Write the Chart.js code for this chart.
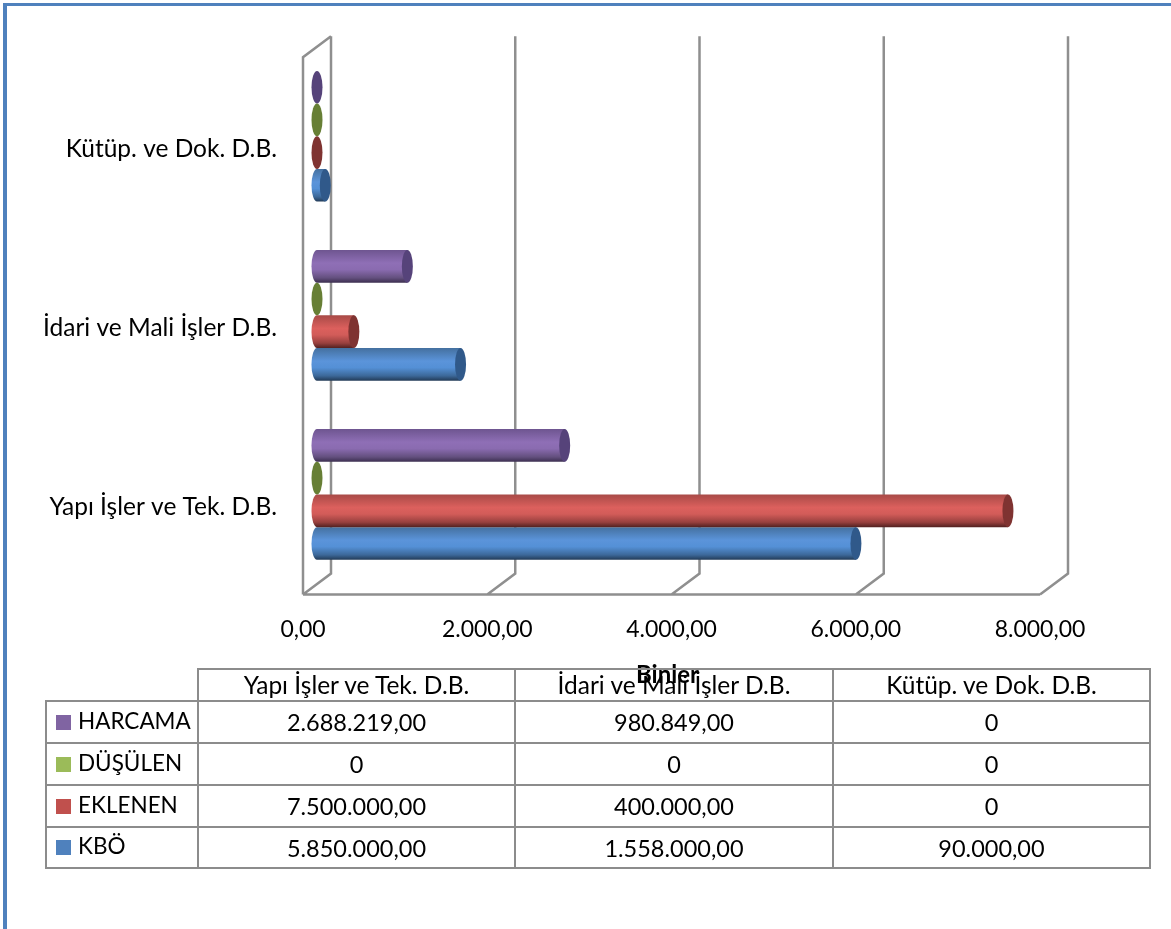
<!DOCTYPE html>
<html lang="tr">
<head>
<meta charset="utf-8">
<title>Harcama grafiği</title>
<script src="https://cdn.jsdelivr.net/npm/chart.js@4/dist/chart.umd.min.js"></script>
<style>
    html, body { margin: 0; padding: 0; background: #fff; overflow: hidden; }
    #wrap { position: relative; width: 1171px; height: 929px; }
    #frame { position: absolute; left: 3px; top: 3px; right: 0; bottom: 0;
        border-left: 4px solid #4f81bd; border-top: 3px solid #4f81bd; }
    #grafica { position: absolute; left: 0; top: 0; }
    #tabla { position: absolute; left: 45px; top: 668px; border-collapse: collapse; table-layout: fixed;
        width: 1104px; font-family: Lato, sans-serif; font-size: 23.5px; color: #000; }
    #tabla td { border: 2px solid #8c8c8c; text-align: center; padding: 0; height: 40px;
        white-space: nowrap; overflow: hidden; }
    #tabla tr:first-child td { height: 30px; line-height: 24px; font-size: 24.5px; }
    #tabla tr:nth-child(5) td, #tabla tr:nth-child(6) td { height: 39px; }
    #tabla td.vacio { border-top: 0; border-left: 0; }
    #tabla td.serie { text-align: left; padding-left: 9px; font-size: 22.5px; }
    #tabla td.serie div { position: relative; top: -2px; }
    #tabla .cuadro { display: inline-block; width: 15px; height: 15px; margin-right: 7px; vertical-align: -1px; }
</style>
</head>
<body>
<div id="wrap">
    <div id="frame"></div>
    <canvas id="grafica" width="1171" height="929"></canvas>
    <table id="tabla"></table>
</div>
<script>
// Categories and series, values as printed in the table under the chart
var birimler = ['Yapı İşler ve Tek. D.B.', 'İdari ve Mali İşler D.B.', 'Kütüp. ve Dok. D.B.'];
var harcama = [2688219, 980849, 0];
var dusulen = [0, 0, 0];
var eklenen = [7500000, 400000, 0];
var kbo = [5850000, 1558000, 90000];
var tickStep = 2000000;
var tickMax = 8000000;
var axisTitle = 'Binler';

var seriesNames = ['HARCAMA', 'DÜŞÜLEN', 'EKLENEN', 'KBÖ'];
var seriesValues = [harcama, dusulen, eklenen, kbo];
var keyColors = ['#8064a2', '#9bbb59', '#c0504d', '#4f81bd'];
var capColors = ['#56437a', '#677f35', '#7f3331', '#30598a'];
var shades = [
    ['#6e5590', '#8f6fb6', '#8a6bb0', '#64507f', '#3c2f50'],
    ['#84a04a', '#a8cc62', '#a0c45c', '#7a9440', '#4a5c26'],
    ['#a84a47', '#dc605d', '#d25c59', '#98403e', '#522120'],
    ['#44709f', '#5b94da', '#5490d6', '#3c6899', '#223a56']
];

var depthX = 14;
var depthY = 10.5;
var gridColor = '#8f8f8f';
var capRadius = 5.5;

// 2.688.219,00 style numbers
function formatNumber(value) {
    return value.toLocaleString('de-DE', { minimumFractionDigits: 2, maximumFractionDigits: 2 });
}

// Perspective walls and floor, taken from the x scale
var wallsPlugin = {
    id: 'walls',
    beforeDatasetsDraw: function (chart) {
        var ctx = chart.ctx;
        var x = chart.scales.x;
        var area = chart.chartArea;
        var left = x.getPixelForValue(0);
        var right = x.getPixelForValue(tickMax);

        ctx.save();
        ctx.strokeStyle = gridColor;
        ctx.lineWidth = 2.5;
        ctx.beginPath();
        x.ticks.forEach(function (tick) {
            var px = x.getPixelForValue(tick.value);
            ctx.moveTo(px + depthX, area.top - depthY);
            ctx.lineTo(px + depthX, area.bottom - depthY);
            ctx.lineTo(px - depthX, area.bottom + depthY);
        });
        ctx.moveTo(left - depthX, area.bottom + depthY);
        ctx.lineTo(right - depthX, area.bottom + depthY);
        ctx.moveTo(left - depthX, area.bottom + depthY);
        ctx.lineTo(left - depthX, area.top + depthY);
        ctx.lineTo(left + depthX, area.top - depthY);
        ctx.stroke();
        ctx.restore();

        // Cylinder shading for each bar body
        chart.data.datasets.forEach(function (ds, i) {
            chart.getDatasetMeta(i).data.forEach(function (bar) {
                bar.options = Object.assign({}, bar.options, {
                    backgroundColor: cylinderGradient(ctx, bar, i)
                });
            });
        });
    },
    afterDatasetsDraw: function (chart) {
        var ctx = chart.ctx;
        var x = chart.scales.x;
        var area = chart.chartArea;

        chart.data.datasets.forEach(function (ds, i) {
            chart.getDatasetMeta(i).data.forEach(function (bar) {
                var h = bar.height / 2;
                ctx.save();
                if (bar.x > bar.base) {
                    // rounded start of the cylinder
                    ctx.fillStyle = cylinderGradient(ctx, bar, i);
                    ctx.beginPath();
                    ctx.ellipse(bar.base, bar.y, capRadius, h, 0, Math.PI / 2, Math.PI * 1.5);
                    ctx.fill();
                }
                ctx.fillStyle = capColors[i];
                ctx.beginPath();
                ctx.ellipse(bar.x, bar.y, capRadius, h, 0, 0, Math.PI * 2);
                ctx.fill();
                ctx.restore();
            });
        });

        ctx.save();
        ctx.fillStyle = '#000';
        ctx.font = 'bold 24px Lato, sans-serif';
        ctx.textAlign = 'center';
        ctx.textBaseline = 'middle';
        ctx.fillText(axisTitle, x.getPixelForValue(tickMax / 2) - 18, area.bottom + 91);
        ctx.restore();
    }
};

function cylinderGradient(ctx, bar, i) {
    var top = bar.y - bar.height / 2;
    var grad = ctx.createLinearGradient(0, top, 0, top + bar.height);
    var stops = [0, 0.4, 0.6, 0.85, 1];
    stops.forEach(function (stop, n) {
        grad.addColorStop(stop, shades[i][n]);
    });
    return grad;
}

var datasets = seriesNames.map(function (name, i) {
    return {
        label: name,
        data: seriesValues[i],
        backgroundColor: keyColors[i],
        borderWidth: 0,
        barPercentage: 1,
        categoryPercentage: 0.73
    };
});

new Chart(document.getElementById('grafica').getContext('2d'), {
    type: 'bar',
    data: { labels: birimler, datasets: datasets },
    plugins: [wallsPlugin],
    options: {
        indexAxis: 'y',
        responsive: false,
        animation: false,
        layout: { padding: { top: 41, right: 117, bottom: 245, left: 0 } },
        plugins: { legend: { display: false }, tooltip: { enabled: false } },
        scales: {
            x: {
                min: 0,
                max: tickMax,
                grid: { display: false },
                border: { display: false },
                afterFit: function (scale) { scale.height = 100; },
                ticks: {
                    stepSize: tickStep,
                    maxRotation: 0,
                    labelOffset: -14,
                    padding: 24,
                    color: '#000',
                    font: { family: 'Lato, sans-serif', size: 23 },
                    callback: function (value) { return formatNumber(value / 1000); }
                }
            },
            y: {
                reverse: true,
                grid: { display: false },
                border: { display: false },
                afterFit: function (scale) { scale.width = 317; },
                ticks: {
                    padding: 32,
                    labelOffset: 13,
                    color: '#000',
                    font: { family: 'Lato, sans-serif', size: 24.5 }
                }
            }
        }
    }
});

// Data table under the chart, it also works as the legend
function crearTabla() {
    var html = '<colgroup><col style="width:152px"><col style="width:317px"><col style="width:318px"><col style="width:317px"></colgroup>';
    html += '<tr><td class="vacio"></td>';
    birimler.forEach(function (b) { html += '<td>' + b + '</td>'; });
    html += '</tr>';
    seriesNames.forEach(function (name, i) {
        html += '<tr><td class="serie"><div><span class="cuadro" style="background:' + keyColors[i] + '"></span>' + name + '</div></td>';
        seriesValues[i].forEach(function (v) {
            html += '<td>' + (v === 0 ? '0' : formatNumber(v)) + '</td>';
        });
        html += '</tr>';
    });
    document.getElementById('tabla').innerHTML = html;
}

crearTabla();
</script>
</body>
</html>
